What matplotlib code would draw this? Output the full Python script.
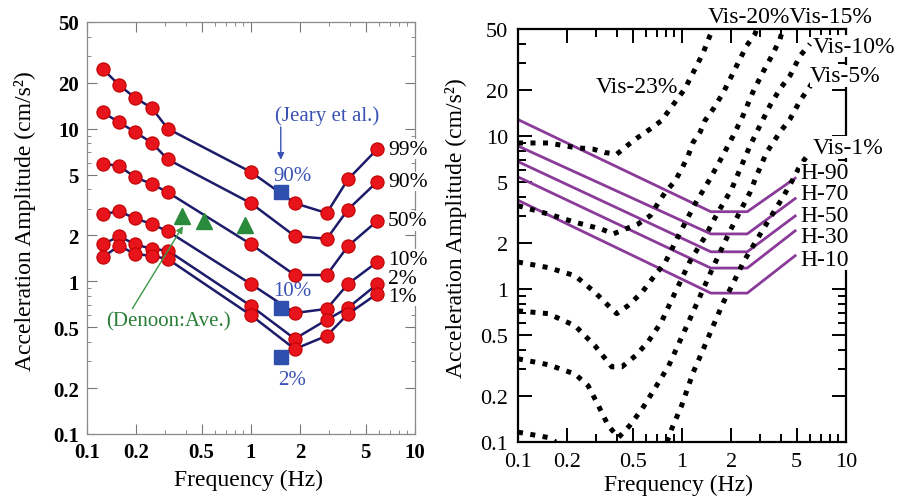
import numpy as np
import matplotlib
matplotlib.use("Agg")
import matplotlib.pyplot as plt
from matplotlib.ticker import NullFormatter, LogLocator

plt.rcParams['font.family'] = ['Liberation Serif', 'DejaVu Serif']

# ---- left panel: measured percentiles ----
freq = [0.125, 0.157, 0.197, 0.248, 0.311, 1.0, 1.85, 2.9, 3.9, 5.9]
p99 = [24.6, 19.3, 15.9, 13.7, 10.0, 5.2, 3.25, 2.8, 4.65, 7.36]
p90 = [12.8, 11.0, 9.5, 8.1, 6.3, 3.25, 1.98, 1.9, 2.95, 4.5]
p50 = [5.9, 5.7, 4.8, 4.35, 3.83, 1.75, 1.1, 1.1, 1.7, 2.49]
p10 = [2.76, 2.87, 2.59, 2.37, 2.13, 0.96, 0.62, 0.66, 0.96, 1.34]
p2 = [1.75, 1.97, 1.75, 1.63, 1.59, 0.69, 0.42, 0.56, 0.67, 0.96]
p1 = [1.44, 1.71, 1.51, 1.47, 1.40, 0.60, 0.36, 0.44, 0.61, 0.83]
series_left = [p99, p90, p50, p10, p2, p1]
names_left = ["99%", "90%", "50%", "10%", "2%", "1%"]
label_y_left = [7.36, 4.49, 2.49, 1.40, 1.04, 0.80]

jeary_f = [1.52, 1.52, 1.52]
jeary_v = [3.86, 0.665, 0.318]
jeary_txt = ["90%", "10%", "2%"]
jeary_txt_v = [4.9, 0.877, 0.229]

denoon_f = [0.378, 0.517, 0.92]
denoon_v = [2.69, 2.49, 2.33]

# ---- right panel: perception thresholds ----
vis23_f = [0.1, 0.153, 0.223, 0.288, 0.339, 0.40, 0.46, 0.54, 0.64, 0.75, 0.83, 1.04, 1.23, 1.35, 1.48, 1.55]
vis23_v = [9.0, 9.0, 8.4, 8.2, 7.8, 7.6, 8.6, 9.8, 11.1, 12.6, 14.6, 20.3, 28.8, 35.2, 45.2, 50]
vis20_f = [0.1, 0.153, 0.223, 0.324, 0.381, 0.45, 0.54, 0.64, 0.72, 0.79, 0.91, 0.995, 1.09, 1.17,
           1.29, 1.38, 1.55, 1.79, 2.06, 2.48, 2.79, 2.85]
vis20_v = [3.5, 3.09, 2.73, 2.46, 2.29, 2.46, 2.66, 3.01, 3.68, 4.28, 5.1, 6.08, 7.43, 9.1,
           10.6, 12.6, 15.0, 19.3, 26.1, 38.9, 46.4, 50]
vis15_f = [0.1, 0.153, 0.223, 0.295, 0.355, 0.40, 0.47, 0.57, 0.68, 0.79, 0.97, 1.20, 1.48, 1.78,
           2.05, 2.35, 2.71, 3.12, 3.59, 3.96, 4.13]
vis15_v = [1.5, 1.38, 1.22, 0.95, 0.78, 0.69, 0.78, 0.95, 1.22, 1.49, 2.32, 3.59, 5.23, 7.5,
           10.0, 13.5, 19.4, 26.2, 34.5, 43.0, 50]
vis10_f = [0.1, 0.153, 0.223, 0.295, 0.373, 0.43, 0.52, 0.62, 0.75, 0.87, 1.12, 1.38, 1.66, 2.01,
           2.26, 2.60, 2.99, 3.44, 3.96, 4.56, 5.25, 6.03]
vis10_v = [0.72, 0.69, 0.575, 0.425, 0.31, 0.31, 0.366, 0.45, 0.61, 0.86, 1.52, 2.19, 3.18, 4.50,
           6.08, 8.63, 11.7, 15.8, 20.3, 24.8, 33.4, 39.9]
vis5_f = [0.1, 0.153, 0.223, 0.268, 0.309, 0.355, 0.41, 0.48, 0.57, 0.68, 0.83, 1.12, 1.48, 1.96,
          2.60, 2.85, 3.28, 3.96, 4.56, 5.25, 6.18]
vis5_v = [0.35, 0.32, 0.278, 0.233, 0.173, 0.128, 0.107, 0.128, 0.164, 0.222, 0.315, 0.64, 1.25, 2.39,
          4.28, 5.5, 7.8, 10.6, 12.9, 17.0, 21.9]
# Vis-1% leaves the plot below 0.1 between ~0.17 and ~0.8 Hz
vis1_f = [0.1, 0.153, 0.17, np.nan, 0.81, 0.866, 0.995, 1.17, 1.35, 1.55, 1.79, 2.06, 2.36, 2.72,
          3.13, 3.59, 4.13, 4.69, 5.25, 6.0]
vis1_v = [0.116, 0.107, 0.1, np.nan, 0.1, 0.122, 0.173, 0.285, 0.405, 0.575, 0.82, 1.10, 1.49, 1.92,
          2.46, 3.13, 3.99, 5.08, 6.4, 7.8]
vis_curves = [(vis23_f, vis23_v), (vis20_f, vis20_v), (vis15_f, vis15_v),
              (vis10_f, vis10_v), (vis5_f, vis5_v), (vis1_f, vis1_v)]

h_f = [0.1, 1.5, 2.5, 4.9]
h90 = [12.8, 3.2, 3.2, 5.3]
h70 = [8.6, 2.29, 2.29, 3.9]
h50 = [6.8, 1.75, 1.75, 3.0]
h30 = [5.4, 1.37, 1.37, 2.4]
h10 = [3.8, 0.94, 0.94, 1.65]
h_lines = [h90, h70, h50, h30, h10]
h_names = ["H-90", "H-70", "H-50", "H-30", "H-10"]
h_label_v = [5.73, 4.18, 3.0, 2.19, 1.57]

xt = [0.1, 0.2, 0.5, 1, 2, 5, 10]
xtl = ["0.1", "0.2", "0.5", "1", "2", "5", "10"]
yt = [0.1, 0.2, 0.5, 1, 2, 5, 10, 20, 50]
ytl = ["0.1", "0.2", "0.5", "1", "2", "5", "10", "20", "50"]

fig = plt.figure(figsize=(9.04, 5.02), dpi=100)

# ================= left =================
ax1 = fig.add_axes([0.0962, 0.1335, 0.3628, 0.8207])
ax1.set_xscale("log")
ax1.set_yscale("log")
ax1.set_xlim(0.1, 10)
ax1.set_ylim(0.1, 50)

for s in series_left:
    ax1.plot(freq, s, color="#1c1c6a", lw=1.8, marker="o", ms=9.5,
             mfc="#e8141c", mec="#c00000", mew=0.8, zorder=3, clip_on=False)

ax1.plot(jeary_f, jeary_v, "s", color="#2f4fae", ms=10, zorder=4)
for t, v in zip(jeary_txt, jeary_txt_v):
    ax1.text(1.78, v, t, color="#3a52b4", fontsize=15, ha="center", va="center", zorder=2)
ax1.text(2.9, 12.3, "(Jeary et al.)", color="#3a52b4", fontsize=15, ha="center", va="center")
ax1.annotate("", xy=(1.52, 6.0), xytext=(1.52, 10.7),
             arrowprops=dict(arrowstyle="-|>", color="#3a52b4", lw=1.0, mutation_scale=10))

ax1.plot(denoon_f, denoon_v, "^", color="#2a8a3c", ms=12, zorder=4)
ax1.annotate("(Denoon:Ave.)", xy=(0.385, 2.3), xytext=(0.312, 0.549),
             color="#2a7f38", fontsize=15, ha="center", va="center",
             arrowprops=dict(arrowstyle="-|>", color="#3c9a48", lw=1.0, mutation_scale=10,
                             shrinkA=0, shrinkB=0, relpos=(0.2, 1.0)))

for name, v in zip(names_left, label_y_left):
    ax1.text(6.85, v, name, fontsize=15.5, ha="left", va="center", zorder=6,
             bbox=dict(facecolor="white", edgecolor="none", pad=0.1))

ax1.set_xticks(xt)
ax1.set_xticklabels(xtl)
ax1.set_yticks(yt)
ax1.set_yticklabels(ytl)
ax1.xaxis.set_minor_locator(LogLocator(base=10, subs=np.arange(2, 10)))
ax1.yaxis.set_minor_locator(LogLocator(base=10, subs=np.arange(2, 10)))
ax1.xaxis.set_minor_formatter(NullFormatter())
ax1.yaxis.set_minor_formatter(NullFormatter())
ax1.tick_params(which="both", direction="in", top=True, right=True, color="#777777")
ax1.tick_params(which="major", length=7, width=0.8, labelsize=15, pad=6)
ax1.tick_params(which="minor", length=3, width=0.6)
for lab in ax1.get_xticklabels() + ax1.get_yticklabels():
    lab.set_fontweight("bold")
for sp in ax1.spines.values():
    sp.set_color("#8a8a8a")
    sp.set_linewidth(0.9)
ax1.set_xlabel("Frequency (Hz)", fontsize=17)
ax1.set_ylabel("Acceleration Amplitude (cm/s²)", fontsize=17)
ax1.xaxis.set_label_coords(0.494, -0.085)
ax1.yaxis.set_label_coords(-0.155, 0.52)

# ================= right =================
ax2 = fig.add_axes([0.573, 0.1175, 0.3628, 0.8227])
ax2.set_xscale("log")
ax2.set_yscale("log")
ax2.set_xlim(0.1, 10)
ax2.set_ylim(0.1, 50)

for hv in h_lines:
    ax2.plot(h_f, hv, color="#8a3a98", lw=2.0, zorder=2)
for f, v in vis_curves:
    ax2.plot(f, v, color="black", lw=3.6, linestyle=(0, (1, 1.5)),
             dash_capstyle="butt", zorder=3)

txt_kw = dict(fontsize=17, ha="left", va="center", zorder=6,
              bbox=dict(facecolor="white", edgecolor="none", pad=0.2))
for name, v in zip(h_names, h_label_v):
    ax2.text(5.25, v, name, **txt_kw)
ax2.text(0.53, 21.0, "Vis-23%", fontsize=17, ha="center", va="center", zorder=6)
ax2.text(1.44, 60.8, "Vis-20%Vis-15%", fontsize=17, ha="left", va="center", zorder=6, clip_on=False)
ax2.text(6.29, 38.7, "Vis-10%", **txt_kw)
ax2.text(6.03, 24.7, "Vis-5%", **txt_kw)
ax2.text(6.29, 8.47, "Vis-1%", **txt_kw)

ax2.set_xticks(xt)
ax2.set_xticklabels(xtl)
ax2.set_yticks(yt)
ax2.set_yticklabels(ytl)
ax2.xaxis.set_minor_locator(LogLocator(base=10, subs=np.arange(2, 10)))
ax2.yaxis.set_minor_locator(LogLocator(base=10, subs=np.arange(2, 10)))
ax2.xaxis.set_minor_formatter(NullFormatter())
ax2.yaxis.set_minor_formatter(NullFormatter())
ax2.tick_params(which="both", direction="in", top=True, right=True, width=1.4)
ax2.tick_params(which="major", length=10, labelsize=16, pad=7)
ax2.tick_params(which="minor", length=6)
for sp in ax2.spines.values():
    sp.set_linewidth(1.6)
ax2.set_xlabel("Frequency (Hz)", fontsize=17)
ax2.set_ylabel("Acceleration Amplitude (cm/s²)", fontsize=17)
ax2.xaxis.set_label_coords(0.488, -0.077)
ax2.yaxis.set_label_coords(-0.155, 0.52)

fig.savefig("out.png", dpi=100)
